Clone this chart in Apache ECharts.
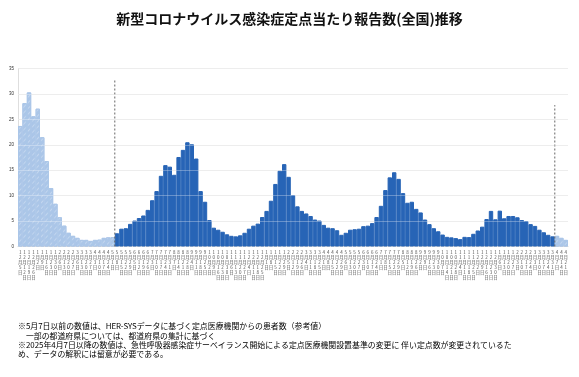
<!DOCTYPE html>
<html lang="ja">
<head>
<meta charset="UTF-8">
<title>新型コロナウイルス感染症定点当たり報告数(全国)推移</title>
<script src="https://cdn.jsdelivr.net/npm/echarts@6/dist/echarts.min.js"></script>
<style>
  html, body { margin: 0; padding: 0; background: #fff; }
  #main { width: 579px; height: 377px; }
</style>
</head>
<body>
<div id="main"></div>
<script>
// 5月7日以前 (HER-SYS 参考値)
var preValues = [23.7, 28.2, 30.3, 25.6, 27.1, 21.5, 16.8, 11.5, 8.4, 5.75, 4.1,
                 2.7, 2.1, 1.7, 1.3, 1.3, 1.1, 1.3, 1.35, 1.7, 1.8, 1.85];
// 2023年第19週～2025年第14週 (定点)
var mainValues = [2.6, 3.5, 3.6, 4.45, 5.1, 5.6, 6.1, 7.2, 9.1, 10.9, 13.9, 16.0,
                  15.7, 14.1, 17.6, 19.0, 20.5, 20.1, 17.3, 10.9, 8.8, 5.2, 3.7, 3.3,
                  2.9, 2.4, 2.1, 2.0, 2.2, 2.7, 3.5, 4.1, 4.5, 5.8, 7.0, 9.0,
                  12.3, 14.9, 16.2, 13.7, 10.1, 7.9, 7.0, 6.5, 6.0, 5.3, 5.1, 4.25,
                  3.7, 3.6, 3.2, 2.3, 2.7, 3.3, 3.4, 3.5, 4.0, 4.1, 4.6, 5.8,
                  8.0, 11.1, 13.6, 14.6, 13.3, 10.5, 8.6, 8.8, 7.4, 6.7, 5.3, 4.4,
                  3.6, 3.0, 2.35, 1.9, 1.8, 1.65, 1.45, 1.9, 1.85, 2.5, 3.15, 3.9,
                  5.4, 7.0, 5.35, 7.05, 5.55, 6.0, 6.0, 5.75, 5.2, 5.0, 4.4, 4.05,
                  3.3, 2.8, 2.3, 2.0];
// 2025年4月7日以降 (急性呼吸器感染症サーベイランス)
var postValues = [2.1, 1.7, 1.3];

var yTicks = [0, 5, 10, 15, 20, 25, 30, 35];

var total = preValues.length + mainValues.length + postValues.length;

// 週の開始日 (2022年12月5日から毎週)
var categories = [];
var d = new Date(2022, 11, 5);
for (var i = 0; i < total; i++) {
    categories.push((d.getMonth() + 1) + '月' + d.getDate() + '日');
    d.setDate(d.getDate() + 7);
}

function pad(arr, before, after) {
    var out = [];
    for (var i = 0; i < before; i++) out.push('-');
    out = out.concat(arr);
    for (var j = 0; j < after; j++) out.push('-');
    return out;
}

var preData = pad(preValues, 0, mainValues.length + postValues.length);
var mainData = pad(mainValues, preValues.length, postValues.length);
var postData = pad(postValues, preValues.length + mainValues.length, 0);

var cut1 = preValues.length;
var cut2 = preValues.length + mainValues.length;

var jpFont = '"Noto Sans CJK JP", sans-serif';

var lightStyle = {
    color: '#abc6e8',
    borderColor: '#abc6e8',
    borderWidth: 1,
    decal: {
        symbol: 'rect',
        color: 'rgba(255,255,255,0.28)',
        dashArrayX: [1, 0],
        dashArrayY: [1, 3],
        rotation: -Math.PI / 4
    }
};

var myChart = echarts.init(document.getElementById('main'), null, { renderer: 'canvas' });

var option = {
    animation: false,
    backgroundColor: '#fff',
    title: {
        text: '新型コロナウイルス感染症定点当たり報告数(全国)推移',
        left: 'center',
        top: 7,
        textStyle: { fontFamily: jpFont, fontSize: 14, fontWeight: 'bold', color: '#111' }
    },
    grid: { left: 18, right: 11, top: 68.5, bottom: 130.5 },
    xAxis: [{
        type: 'category',
        data: categories,
        axisLine: { show: true, lineStyle: { color: '#d9d9d9' } },
        axisTick: { show: false },
        axisLabel: {
            interval: 0,
            margin: 3,
            fontSize: 4.5,
            lineHeight: 5,
            color: '#555',
            fontFamily: jpFont,
            formatter: function (v) { return v.split('').join('\n'); }
        }
    }, {
        type: 'value',
        min: 0,
        max: total,
        show: false
    }],
    yAxis: {
        type: 'value',
        min: 0,
        max: 35,
        interval: 5,
        axisLine: { show: true, lineStyle: { color: '#dedede' } },
        axisTick: { show: false },
        axisLabel: { fontSize: 4.5, color: '#333', margin: 4, fontFamily: 'Liberation Sans' },
        splitLine: { lineStyle: { color: '#e6e6e6', width: 1 } }
    },
    series: [{
        name: '参考値',
        type: 'bar',
        stack: 'all',
        barCategoryGap: '0%',
        data: preData,
        itemStyle: lightStyle
    }, {
        name: '定点',
        type: 'bar',
        stack: 'all',
        barCategoryGap: '0%',
        data: mainData,
        itemStyle: { color: '#2764b6', borderColor: '#2764b6', borderWidth: 1 },
        markLine: {
            silent: true,
            symbol: 'none',
            label: { show: false },
            lineStyle: { color: 'rgba(255,255,255,0.3)', type: 'solid', width: 1 },
            data: yTicks.slice(1).map(function (t) { return { yAxis: t }; })
        }
    }, {
        name: 'ARI',
        type: 'bar',
        stack: 'all',
        barCategoryGap: '0%',
        data: postData,
        itemStyle: lightStyle
    }, {
        type: 'line',
        xAxisIndex: 1,
        data: [[cut1, 0], [cut1, 32.7]],
        symbol: 'none',
        silent: true,
        lineStyle: { color: '#666', width: 1, type: [2, 2] }
    }, {
        type: 'line',
        xAxisIndex: 1,
        data: [[cut2, 0], [cut2, 27.8]],
        symbol: 'none',
        silent: true,
        lineStyle: { color: '#666', width: 1, type: [2, 2] }
    }],
    graphic: [{
        type: 'text',
        left: 18,
        top: 320.5,
        style: {
            text: '※5月7日以前の数値は、HER-SYSデータに基づく定点医療機関からの患者数（参考値）\n　一部の都道府県については、都道府県の集計に基づく',
            font: '7.9px ' + jpFont,
            lineHeight: 10.5,
            fill: '#000'
        }
    }, {
        type: 'text',
        left: 18,
        top: 340,
        style: {
            text: '※2025年4月7日以降の数値は、急性呼吸器感染症サーベイランス開始による定点医療機関設置基準の変更に 伴い定点数が変更されているた\nめ、データの解釈には留意が必要である。',
            font: '7.9px ' + jpFont,
            lineHeight: 9,
            fill: '#000'
        }
    }]
};

myChart.setOption(option);
</script>
</body>
</html>
